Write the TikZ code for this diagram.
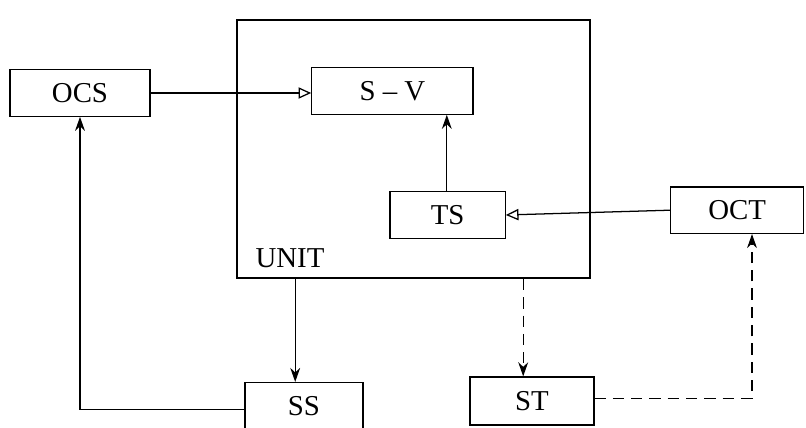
\documentclass[tikz,border=0pt]{standalone}
\usepackage{fontspec}
\setmainfont{Liberation Serif}
\usepackage{tikz}
\usetikzlibrary{arrows.meta,positioning,calc}
\tikzset{
  blk/.style={rectangle, draw=black, fill=white, line width=0.9pt,
              align=center, inner sep=2pt, minimum height=1.16cm},
  unitbox/.style={rectangle, draw=black, line width=1.6pt, minimum width=8.83cm, minimum height=6.45cm},
  lbl/.style={inner sep=0pt},
  flow/.style={-{Stealth[length=10pt,width=7pt]}, draw=black, line width=0.9pt},
  openflow/.style={-{Triangle[open,length=9pt,width=8pt]}, draw=black, line width=0.9pt},
  dashflow/.style={-{Stealth[length=10pt,width=7pt]}, draw=black, line width=0.9pt, dash pattern=on 8pt off 5pt},
}

\begin{document}
\begin{tikzpicture}[x=1cm,y=1cm, every node/.style={font=\fontsize{20.5}{24}\selectfont}]
\useasboundingbox (0,0) rectangle (20.15,10.675);
\node[unitbox] (unit) at (10.34, 6.95) {};
\node[lbl] (unitlbl) at (7.25, 4.22) {UNIT};
\node[blk, minimum width=3.5cm]  (ocs) at (2.0, 8.35)  {OCS};
\node[blk, minimum width=4.03cm] (sv)  at (9.81, 8.4)  {S -- V};
\node[blk, minimum width=2.88cm] (ts)  at (11.19, 5.3) {TS};
\node[blk, minimum width=3.33cm] (oct) at (18.43, 5.42) {OCT};
\node[blk, minimum width=2.95cm] (ss)  at (7.6, 0.53)  {SS};
\node[blk, minimum width=3.1cm, minimum height=1.2cm] (st) at (13.3, 0.65) {ST};
\draw[openflow] (ocs.east) -- (sv.west |- ocs.east);
\draw[flow] (ts.north -| 11.17,0) -- (sv.south -| 11.17,0);
\draw[openflow] (oct.west) -- (ts.east);
\draw[flow] ([xshift=-0.22cm]ss.north |- unit.south) -- ([xshift=-0.22cm]ss.north);
\draw[dashflow] ([xshift=-0.22cm]st.north |- unit.south) -- ([xshift=-0.22cm]st.north);
\draw[flow] ([yshift=-0.1cm]ss.west) -| (ocs.south);
\draw[dashflow] ([yshift=0.07cm]st.east) -| ([xshift=0.37cm]oct.south);
\end{tikzpicture}
\end{document}
